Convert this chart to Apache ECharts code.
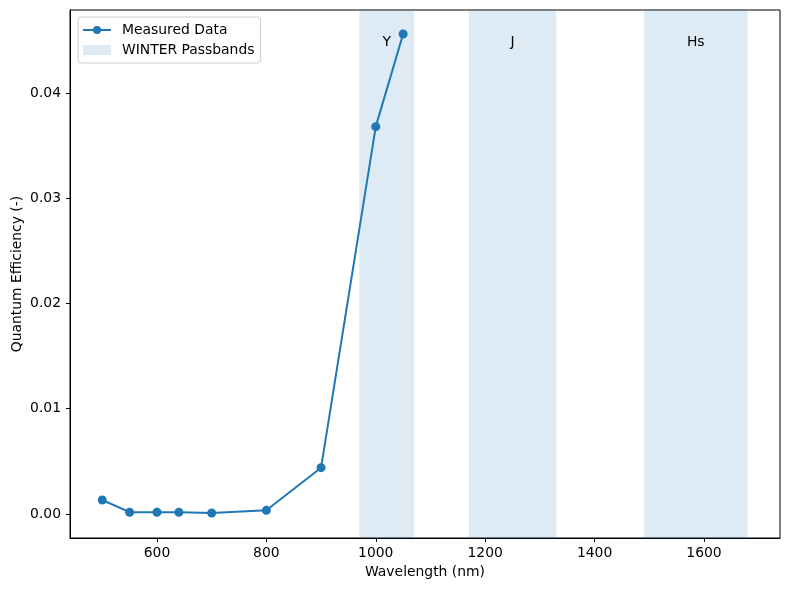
<!DOCTYPE html>
<html>
<head>
<meta charset="utf-8">
<script src="https://cdn.jsdelivr.net/npm/echarts@6/dist/echarts.min.js"></script>
<style>
  html, body { margin: 0; padding: 0; background: #fff; }
  #main { width: 790px; height: 590px; }
</style>
</head>
<body>
<div id="main"></div>
<script>
// measured quantum efficiency
const wavelengths = [500, 550, 600, 640, 700, 800, 900, 1000, 1050];
const qeValues = [0.00133, 0.00017, 0.00017, 0.00017, 0.0001, 0.00035, 0.0044, 0.0368, 0.0456];

// WINTER passbands (start, end in nm)
const bandNames = ["Y", "J", "Hs"];
const bandStart = [970, 1170, 1490];
const bandEnd = [1070, 1330, 1680];
const bandLabelY = 0.0448;

const xTicks = [600, 800, 1000, 1200, 1400, 1600];
const yTicks = [0, 0.01, 0.02, 0.03, 0.04];

const blue = "#1f77b4";
const font = "DejaVu Sans";
const fs = 13.9;

const chart = echarts.init(document.getElementById("main"));

const bandData = bandNames.map((n, i) => [bandStart[i], bandEnd[i], n]);

chart.setOption({
  animation: false,
  textStyle: { fontFamily: font },
  grid: {
    left: 70, right: 10, top: 10, bottom: 52,
    containLabel: false,
    outerBoundsMode: "none",
    show: true, borderColor: "#000", borderWidth: 1,
  },
  legend: {
    orient: "vertical",
    left: 78, top: 17,
    itemWidth: 28, itemHeight: 10, itemGap: 6,
    padding: [6, 6, 6, 4],
    borderColor: "#cccccc", borderWidth: 1, borderRadius: 3,
    textStyle: { fontFamily: font, fontSize: fs, color: "#000", padding: [0, 0, 0, 6] },
    data: [
      { name: "Measured Data" },
      { name: "WINTER Passbands", icon: "rect", itemStyle: { color: "rgba(31,119,180,0.15)" } },
    ],
  },
  xAxis: {
    type: "value",
    min: 441, max: 1739,
    name: "Wavelength (nm)",
    nameLocation: "middle",
    nameGap: 27,
    nameMoveOverlap: false,
    nameTextStyle: { fontFamily: font, fontSize: fs, color: "#000" },
    splitLine: { show: false },
    axisLine: { show: true, onZero: false, lineStyle: { color: "#000" } },
    axisTick: { show: true, length: 4, customValues: xTicks, lineStyle: { color: "#000" } },
    axisLabel: {
      customValues: xTicks, fontFamily: font, fontSize: fs, color: "#000", margin: 8,
      formatter: (v) => String(v),
    },
  },
  yAxis: {
    type: "value",
    min: -0.00228, max: 0.04788,
    name: "Quantum Efficiency (-)",
    nameLocation: "middle",
    nameGap: 46,
    nameMoveOverlap: false,
    nameTextStyle: { fontFamily: font, fontSize: fs, color: "#000" },
    splitLine: { show: false },
    axisLine: { show: true, onZero: false, lineStyle: { color: "#000" } },
    axisTick: { show: true, length: 4, customValues: yTicks, lineStyle: { color: "#000" } },
    axisLabel: {
      customValues: yTicks, fontFamily: font, fontSize: fs, color: "#000", margin: 9,
      formatter: (v) => v.toFixed(2),
    },
  },
  series: [
    {
      name: "WINTER Passbands",
      type: "custom",
      z: 1,
      data: bandData,
      encode: { x: [0, 1] },
      renderItem: (params, api) => {
        const cs = params.coordSys;
        const x0 = api.coord([api.value(0), 0])[0];
        const x1 = api.coord([api.value(1), 0])[0];
        const mid = api.coord([(api.value(0) + api.value(1)) / 2, bandLabelY]);
        return {
          type: "group",
          children: [
            {
              type: "rect",
              shape: { x: x0, y: cs.y, width: x1 - x0, height: cs.height },
              style: { fill: "rgba(31,119,180,0.15)" },
            },
            {
              type: "text",
              x: mid[0], y: mid[1],
              style: {
                text: bandNames[params.dataIndex],
                fill: "#000",
                font: fs + "px " + font,
                align: "center",
                verticalAlign: "middle",
              },
            },
          ],
        };
      },
    },
    {
      name: "Measured Data",
      type: "line",
      z: 3,
      data: wavelengths.map((w, i) => [w, qeValues[i]]),
      symbol: "circle",
      symbolSize: 9,
      color: blue,
      lineStyle: { color: blue, width: 2 },
      itemStyle: { color: blue },
    },
  ],
});
</script>
</body>
</html>
